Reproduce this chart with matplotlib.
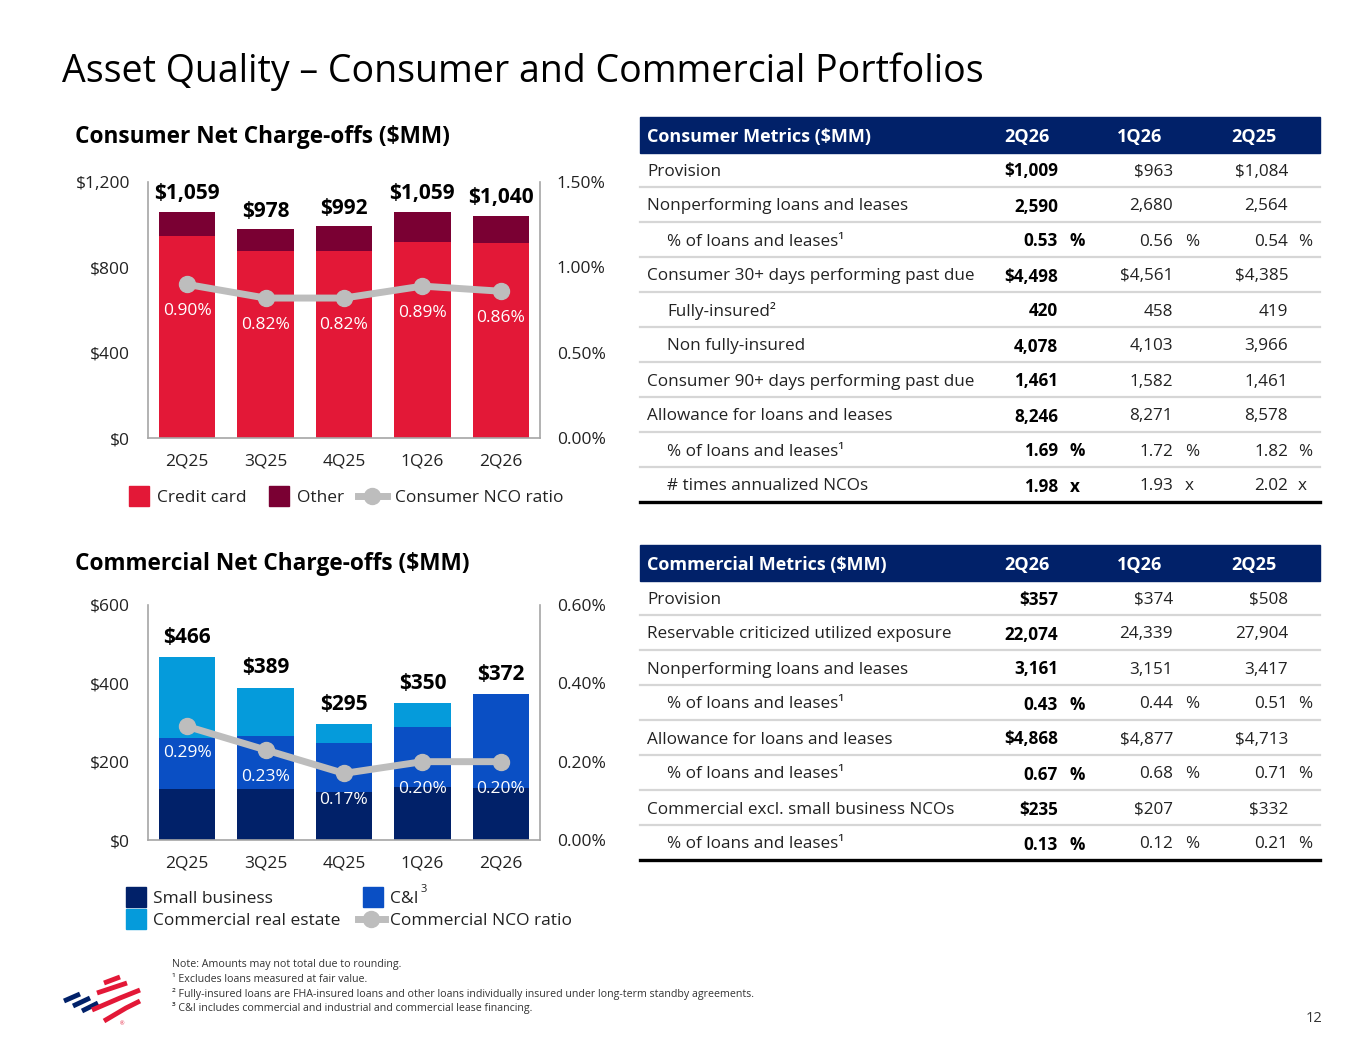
import matplotlib
matplotlib.use('Agg')
import matplotlib.pyplot as plt
from matplotlib.patches import Rectangle
from matplotlib.lines import Line2D

plt.rcParams['font.family'] = ['Open Sans', 'DejaVu Sans']

## data

quarters = ['2Q25', '3Q25', '4Q25', '1Q26', '2Q26']

# consumer net charge-offs ($MM)
credit_card = [949, 877, 877, 918, 912]
other = [110, 101, 115, 141, 128]
consumer_totals = ['$1,059', '$978', '$992', '$1,059', '$1,040']
consumer_nco_ratio = [0.90, 0.82, 0.82, 0.89, 0.86]

# commercial net charge-offs ($MM)
small_business = [131, 131, 123, 136, 134]
c_and_i = [130, 135, 124, 153, 238]
commercial_re = [205, 123, 48, 61, 0]
commercial_totals = ['$466', '$389', '$295', '$350', '$372']
commercial_nco_ratio = [0.29, 0.23, 0.17, 0.20, 0.20]

# tables
table_cols = ['2Q26', '1Q26', '2Q25']

consumer_labels = ['Provision', 'Nonperforming loans and leases', '% of loans and leases\u00b9',
                   'Consumer 30+ days performing past due', 'Fully-insured\u00b2', 'Non fully-insured',
                   'Consumer 90+ days performing past due', 'Allowance for loans and leases',
                   '% of loans and leases\u00b9', '# times annualized NCOs']
consumer_indent = [0, 0, 1, 0, 1, 1, 0, 0, 1, 1]
consumer_2q26 = ['$1,009', '2,590', '0.53', '$4,498', '420', '4,078', '1,461', '8,246', '1.69', '1.98']
consumer_1q26 = ['$963', '2,680', '0.56', '$4,561', '458', '4,103', '1,582', '8,271', '1.72', '1.93']
consumer_2q25 = ['$1,084', '2,564', '0.54', '$4,385', '419', '3,966', '1,461', '8,578', '1.82', '2.02']
consumer_unit = ['', '', '%', '', '', '', '', '', '%', 'x']

commercial_labels = ['Provision', 'Reservable criticized utilized exposure', 'Nonperforming loans and leases',
                     '% of loans and leases\u00b9', 'Allowance for loans and leases', '% of loans and leases\u00b9',
                     'Commercial excl. small business NCOs', '% of loans and leases\u00b9']
commercial_indent = [0, 0, 0, 1, 0, 1, 0, 1]
commercial_2q26 = ['$357', '22,074', '3,161', '0.43', '$4,868', '0.67', '$235', '0.13']
commercial_1q26 = ['$374', '24,339', '3,151', '0.44', '$4,877', '0.68', '$207', '0.12']
commercial_2q25 = ['$508', '27,904', '3,417', '0.51', '$4,713', '0.71', '$332', '0.21']
commercial_unit = ['', '', '', '%', '', '%', '', '%']

footnotes = ['Note: Amounts may not total due to rounding.',
             '\u00b9 Excludes loans measured at fair value.',
             '\u00b2 Fully-insured loans are FHA-insured loans and other loans individually insured under long-term standby agreements.',
             '\u00b3 C&I includes commercial and industrial and commercial lease financing.']

## colours
RED = '#E31837'
MAROON = '#7A0033'
NAVY = '#012169'
MIDBLUE = '#0A4FC4'
LIGHTBLUE = '#059BDB'
GRAY = '#BDBDBD'
SPINE = '#A6A6A6'
TXT = '#222222'

W, H = 1365, 1055
fig = plt.figure(figsize=(W / 100, H / 100), dpi=100)

# overlay in pixel coordinates for titles, tables, legends
bg = fig.add_axes([0, 0, 1, 1], zorder=0)
bg.set_xlim(0, W)
bg.set_ylim(H, 0)
bg.axis('off')


def px_axes(x0, y0, x1, y1):
    return fig.add_axes([x0 / W, 1 - y1 / H, (x1 - x0) / W, (y1 - y0) / H], zorder=2)


def nco_chart(ax, stacks, colors, totals, ratio, ymax, yticks, ylabels, rmax, rticks, label_off):
    ax.set_facecolor('none')
    x = list(range(len(quarters)))
    bottom = [0] * len(quarters)
    for vals, c in zip(stacks, colors):
        ax.bar(x, vals, width=0.72, bottom=bottom, color=c, zorder=2)
        bottom = [b + v for b, v in zip(bottom, vals)]
    for xi, top, lab in zip(x, bottom, totals):
        ax.annotate(lab, (xi, top), xytext=(0, label_off), textcoords='offset points',
                    ha='center', va='center_baseline', fontsize=15, fontweight='bold', color='black')
    ax.set_xlim(-0.5, len(quarters) - 0.5)
    ax.set_ylim(0, ymax)
    ax.set_yticks(yticks)
    ax.set_yticklabels(ylabels)
    ax.set_xticks(x)
    ax.set_xticklabels(quarters)
    ax.tick_params(length=0, labelsize=12.5, labelcolor=TXT)
    ax.tick_params(axis='y', pad=13)
    ax.tick_params(axis='x', pad=11)
    for s in ['top', 'right']:
        ax.spines[s].set_visible(False)
    for s in ['left', 'bottom']:
        ax.spines[s].set_color(SPINE)
        ax.spines[s].set_linewidth(1.2)

    ax2 = ax.twinx()
    ax2.set_facecolor('none')
    ax2.plot(x, ratio, color=GRAY, lw=5, marker='o', ms=11.5, zorder=3)
    for xi, r in zip(x, ratio):
        ax2.annotate('%.2f%%' % r, (xi, r), xytext=(0, -18), textcoords='offset points',
                     ha='center', va='center_baseline', fontsize=12.5, color='white')
    ax2.set_ylim(0, rmax)
    ax2.set_yticks(rticks)
    ax2.set_yticklabels(['%.2f%%' % t for t in rticks])
    ax2.tick_params(length=0, labelsize=12.5, labelcolor=TXT, pad=12)
    for s in ['top', 'left', 'bottom']:
        ax2.spines[s].set_visible(False)
    ax2.spines['right'].set_color(SPINE)
    ax2.spines['right'].set_linewidth(1.2)


## title
bg.text(62, 72, 'Asset Quality \u2013 Consumer and Commercial Portfolios', fontsize=27,
        color='black', va='center', ha='left')

## consumer chart
bg.text(75, 137, 'Consumer Net Charge-offs ($MM)', fontsize=16.3, fontweight='bold', va='center')
ax_c = px_axes(148, 182, 540, 438)
nco_chart(ax_c, [credit_card, other], [RED, MAROON], consumer_totals, consumer_nco_ratio,
          1200, [0, 400, 800, 1200], ['$0', '$400', '$800', '$1,200'], 1.5, [0, 0.5, 1.0, 1.5], 15)

# consumer legend
bg.add_patch(Rectangle((129, 486), 20, 20, color=RED))
bg.text(157, 496, 'Credit card', fontsize=12.5, va='center_baseline', color=TXT)
bg.add_patch(Rectangle((269, 486), 20, 20, color=MAROON))
bg.text(297, 496, 'Other', fontsize=12.5, va='center_baseline', color=TXT)
bg.add_line(Line2D([358, 387], [496, 496], color=GRAY, lw=5))
bg.plot([372], [496], 'o', color=GRAY, ms=11.5)
bg.text(395, 496, 'Consumer NCO ratio', fontsize=12.5, va='center_baseline', color=TXT)

## commercial chart
bg.text(75, 564, 'Commercial Net Charge-offs ($MM)', fontsize=16.3, fontweight='bold', va='center')
ax_m = px_axes(148, 605, 540, 840)
nco_chart(ax_m, [small_business, c_and_i, commercial_re], [NAVY, MIDBLUE, LIGHTBLUE],
          commercial_totals, commercial_nco_ratio,
          600, [0, 200, 400, 600], ['$0', '$200', '$400', '$600'], 0.6, [0, 0.2, 0.4, 0.6], 16)

# commercial legend
bg.add_patch(Rectangle((126, 887), 20, 20, color=NAVY))
bg.text(153, 897, 'Small business', fontsize=12.5, va='center_baseline', color=TXT)
bg.add_patch(Rectangle((126, 909), 20, 20, color=LIGHTBLUE))
bg.text(153, 919, 'Commercial real estate', fontsize=12.5, va='center_baseline', color=TXT)
bg.add_patch(Rectangle((363, 887), 20, 20, color=MIDBLUE))
bg.text(390, 897, 'C&I', fontsize=12.5, va='center_baseline', color=TXT)
bg.text(421, 890, '3', fontsize=8, va='center', color=TXT)
bg.add_line(Line2D([358, 385], [919, 919], color=GRAY, lw=5))
bg.plot([371], [919], 'o', color=GRAY, ms=11.5)
bg.text(390, 919, 'Commercial NCO ratio', fontsize=12.5, va='center_baseline', color=TXT)


## tables
def metrics_table(y_head, title, labels, indent, c1, c2, c3, unit):
    x0, x1 = 640, 1320
    bg.add_patch(Rectangle((x0, y_head), x1 - x0, 36, color=NAVY))
    yc = y_head + 18
    bg.text(647, yc, title, color='white', fontsize=13, fontweight='bold', va='center_baseline')
    for cx, name in zip([1027, 1140, 1254], table_cols):
        bg.text(cx, yc, name, color='white', fontsize=13, fontweight='bold',
                va='center_baseline', ha='center')
    row_h = 35
    top = y_head + 35
    for i, lab in enumerate(labels):
        yc = top + row_h * i + row_h / 2
        bg.text(647 + 20 * indent[i], yc, lab, fontsize=12.3, va='center_baseline', color=TXT)
        for j, (vals, rx, ux) in enumerate(zip([c1, c2, c3], [1058, 1173, 1288], [1070, 1185, 1298])):
            fw = 'bold' if j == 0 else 'normal'
            col = 'black' if j == 0 else TXT
            bg.text(rx, yc, vals[i], fontsize=12.3, va='center_baseline', ha='right', fontweight=fw, color=col)
            if unit[i]:
                bg.text(ux, yc, unit[i], fontsize=12.3, va='center_baseline', ha='left', fontweight=fw, color=col)
        yl = top + row_h * (i + 1)
        if i < len(labels) - 1:
            bg.add_line(Line2D([x0, x1], [yl, yl], color='#D6D6D6', lw=1.6))
        else:
            bg.add_line(Line2D([x0, x1], [yl, yl], color='black', lw=2.4))


metrics_table(117, 'Consumer Metrics ($MM)', consumer_labels, consumer_indent,
              consumer_2q26, consumer_1q26, consumer_2q25, consumer_unit)
metrics_table(545, 'Commercial Metrics ($MM)', commercial_labels, commercial_indent,
              commercial_2q26, commercial_1q26, commercial_2q25, commercial_unit)

## footnotes
for k, note in enumerate(footnotes):
    bg.text(172, 963 + 14.5 * k, note, fontsize=7.7, va='center_baseline', color='#333333')

bg.text(1322, 1016, '12', fontsize=10.5, va='center_baseline', ha='right', color='#333333')

## logo stripes
blue_stripes = [((64, 1001), (80, 994)), ((73, 1006), (90, 998)), ((82, 1011), (98, 1003))]
red_stripes = [((104, 983), (120, 977)), ((97, 993), (127, 983)), ((92, 1010), (120, 998), (140, 990)),
               ((104, 1021), (126, 1008), (140, 1001))]
for s in blue_stripes:
    bg.add_line(Line2D([p[0] for p in s], [p[1] for p in s], color=NAVY, lw=3.5, solid_capstyle='butt'))
for s in red_stripes:
    bg.add_line(Line2D([p[0] for p in s], [p[1] for p in s], color=RED, lw=3.5, solid_capstyle='butt'))
bg.text(122, 1024, '\u00ae', fontsize=4, color=RED, ha='center', va='center')

fig.savefig('out.png', dpi=100)
